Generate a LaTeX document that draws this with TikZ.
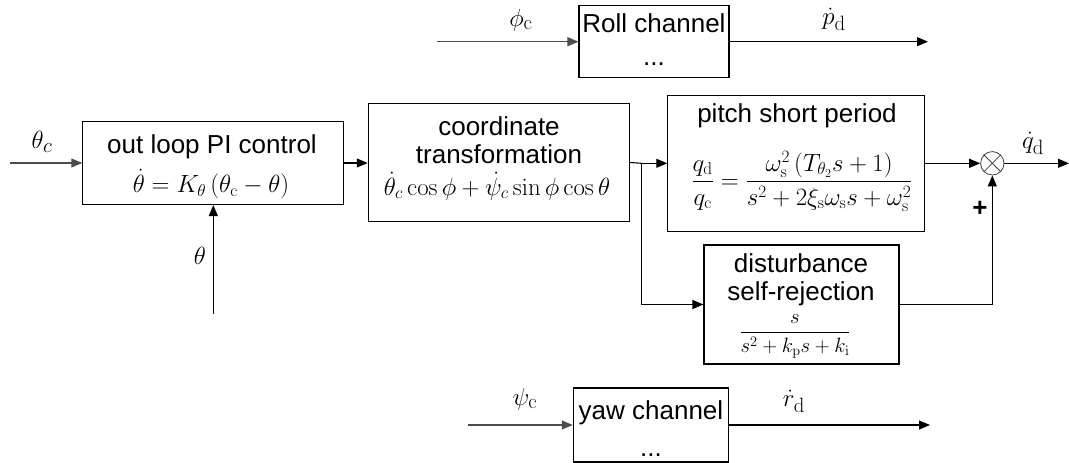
\documentclass[tikz,border=0pt]{standalone}
\usepackage{amsmath}
\usepackage[no-math]{fontspec}
\setmainfont{Liberation Sans}
\usetikzlibrary{arrows.meta}
\begin{document}
\begin{tikzpicture}[x=1pt,y=-1pt,
  blk/.style={draw,line width=1.1pt,rectangle,inner sep=0pt},
  txt/.style={font=\fontsize{26}{30}\selectfont,inner sep=0pt},
  lbl/.style={font=\fontsize{28}{32}\selectfont,inner sep=0pt},
  small/.style={font=\fontsize{20}{24}\selectfont,inner sep=0pt},
  arr/.style={line width=1.1pt,-{Triangle[length=11pt,width=9pt]}},
  arrin/.style={arr,draw=black!70},
  ln/.style={line width=1.1pt}]
\useasboundingbox (0,0) rectangle (1069,463);

% blocks
\node[blk,minimum width=150pt,minimum height=72pt] (roll) at (654,41.7) {};
\node[txt] (rolltxt) at (654,23) {Roll channel};
\node[txt] (rolldots) at (654,64) {...};

\node[blk,minimum width=261pt,minimum height=83pt] (pi) at (213.3,163) {};
\node[txt] (pitxt) at (212,147) {out loop PI control};
\node[txt,font=\fontsize{27}{30}\selectfont] (pieq) at (211,184) {$\dot\theta=K_\theta\left(\theta_\mathrm{c}-\theta\right)$};

\node[blk,minimum width=261pt,minimum height=118pt] (coord) at (498.8,162.5) {};
\node[txt] (coordtxta) at (499,126) {coordinate};
\node[txt] (coordtxtb) at (499,154) {transformation};
\node[txt] (coordeq) at (497,186) {$\dot\theta_c\cos\phi+\dot\psi_c\sin\phi\cos\theta$};

\node[blk,minimum width=257pt,minimum height=136pt] (pitch) at (796.3,163.3) {};
\node[txt] (pitchtxt) at (797,116) {pitch short period};
\node[txt,anchor=base] (pitcheq) at (802,188) {$\dfrac{q_\mathrm{d}}{q_\mathrm{c}}=\dfrac{\omega_\mathrm{s}^2\left(T_{\theta_2}s+1\right)}{s^2+2\xi_\mathrm{s}\omega_\mathrm{s}s+\omega_\mathrm{s}^2}$};

\node[blk,minimum width=195pt,minimum height=119pt] (dist) at (801.5,304.5) {};
\node[txt] (disttxta) at (801,263) {disturbance};
\node[txt] (disttxtb) at (801,294) {self-rejection};
\node[small,anchor=base] (disteq) at (795,338) {$\dfrac{s}{s^2+k_\mathrm{p}s+k_\mathrm{i}}$};

\node[blk,minimum width=155pt,minimum height=74pt] (yaw) at (650.8,425) {};
\node[txt] (yawtxt) at (651,413) {yaw channel};
\node[txt] (yawdots) at (651,455) {...};

\node[circle,draw=black!75,line width=0.8pt,minimum size=23.4pt,inner sep=0pt] (sum) at (992.3,163.3) {};
\draw[black!75,line width=0.8pt] (sum.north west) -- (sum.south east);
\draw[black!75,line width=0.8pt] (sum.north east) -- (sum.south west);

% free ends
\coordinate (thcin) at (10,163);
\coordinate (thin) at (213.3,314);
\coordinate (phin) at (436.7,41.7);
\coordinate (pout) at (928,41.7);
\coordinate (psin) at (468.3,425);
\coordinate (rout) at (930,425);
\coordinate (br) at (641.7,163.3);
\coordinate (qout) at (1069,163.3);

% connectors
\draw[arrin] (thcin) -- (pi.west);
\draw[arr] (pi.east) -- (pi.east -| coord.west);
\draw[ln] (coord.east) -- (br);
\draw[arr] (br) -- (br -| pitch.west);
\draw[arr] (br) |- (dist.west);
\draw[arr] (pitch.east) -- (sum.west);
\draw[arr] (sum.east) -- (qout);
\draw[arr] (dist.east) -| (sum.south);
\draw[arr] (thin) -- (pi.south);
\draw[arrin] (phin) -- (roll.west);
\draw[arr] (roll.east) -- (pout);
\draw[arrin] (psin) -- (yaw.west);
\draw[arr] (yaw.east) -- (rout);

% labels
\node[lbl] (lthc) at (42,142) {$\theta_c$};
\node[lbl] (lth) at (200,256) {$\theta$};
\node[lbl] (lphi) at (521,20) {$\phi_\mathrm{c}$};
\node[lbl] (lp) at (834,19) {$\dot p_\mathrm{d}$};
\node[lbl] (lq) at (1033,143) {$\dot q_\mathrm{d}$};
\node[txt] (lplus) at (980,209) {\textbf{+}};
\node[lbl] (lpsi) at (525,399) {$\psi_\mathrm{c}$};
\node[lbl] (lr) at (794,401) {$\dot r_\mathrm{d}$};
\end{tikzpicture}
\end{document}
